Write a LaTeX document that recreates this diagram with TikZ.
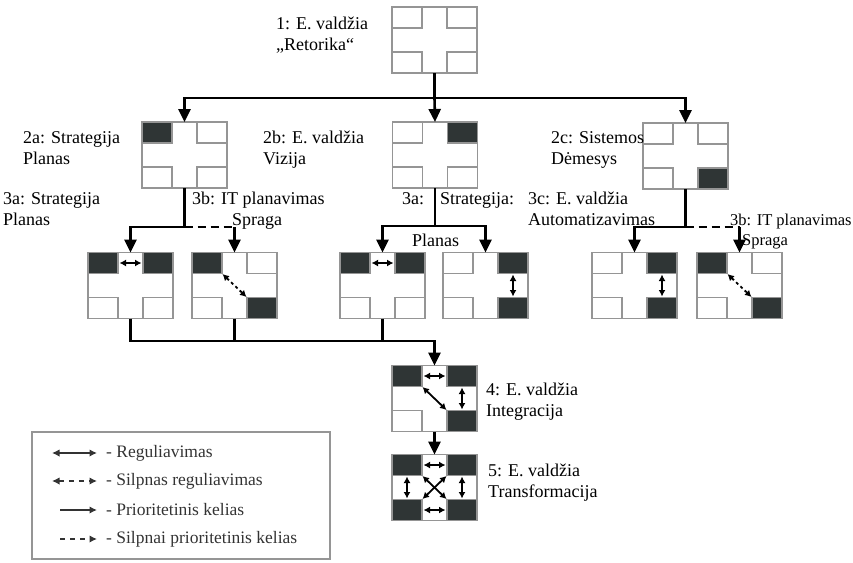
\documentclass[tikz,border=0pt]{standalone}
\usepackage{fontspec}
\setmainfont{Liberation Serif}
\usetikzlibrary{arrows.meta,calc}
\definecolor{celldark}{HTML}{2F3535}
\definecolor{cellline}{HTML}{959595}
\definecolor{legtext}{HTML}{333333}
\tikzset{
  egov/.style={draw=cellline, line width=1.5pt, minimum width=85pt, minimum height=66pt,
    inner sep=0pt, outer sep=0pt, fill=white},
  lite/.style={draw=cellline, line width=1.3pt, fill=white},
  dark/.style={draw=cellline, line width=1.3pt, fill=celldark},
  conn/.style={line width=2.6pt, draw=black},
  connarrow/.style={conn, -{Triangle[width=12pt,length=13pt]}},
  weak/.style={dash pattern=on 8pt off 5pt},
  rel/.style={line width=1.8pt, {Latex[length=6.5pt,width=7pt]}-{Latex[length=6.5pt,width=7pt]}},
  weakrel/.style={rel, dash pattern=on 3pt off 3pt},
  lbl/.style={anchor=north west, inner sep=0pt, align=left, font=\fontsize{18}{21}\selectfont},
  legline/.style={line width=1.8pt, draw=legtext},
  legtip/.tip={Latex[length=7.5pt,width=7.5pt]},
  legtxt/.style={anchor=west, inner sep=0pt, text=legtext, font=\fontsize{17.5}{20}\selectfont},
}
% four corner cells of a governance box: node, TL, TR, BL, BR
\newcommand\egovcells[5]{%
  \draw[#2] (#1.north west) rectangle ++(30,21);
  \draw[#3] (#1.north east) rectangle ++(-30,21);
  \draw[#4] (#1.south west) rectangle ++(30,-21);
  \draw[#5] (#1.south east) rectangle ++(-30,-21);
}
\begin{document}
\begin{tikzpicture}[x=1pt,y=-1pt]
\useasboundingbox (0,0) rectangle (853,562);

% ---- boxes ----
\node[egov] (b1)   at (434.5,40)    {};
\node[egov] (b2a)  at (184.5,155)   {};
\node[egov] (b2b)  at (435,155)     {};
\node[egov] (b2c)  at (685.5,156)   {};
\node[egov] (b3a1) at (130.5,285.5) {};
\node[egov] (b3b1) at (234.5,285.5) {};
\node[egov] (b3a2) at (382.5,285.5) {};
\node[egov] (b3d)  at (485.5,285.5) {};
\node[egov] (b3c)  at (634.5,285.5) {};
\node[egov] (b3b2) at (739.5,285.5) {};
\node[egov] (b4)   at (434.5,398.5) {};
\node[egov] (b5)   at (434.5,487.5) {};

\egovcells{b1}{lite}{lite}{lite}{lite}
\egovcells{b2a}{dark}{lite}{lite}{lite}
\egovcells{b2b}{lite}{dark}{lite}{lite}
\egovcells{b2c}{lite}{lite}{lite}{dark}
\egovcells{b3a1}{dark}{dark}{lite}{lite}
\egovcells{b3b1}{dark}{lite}{lite}{dark}
\egovcells{b3a2}{dark}{dark}{lite}{lite}
\egovcells{b3d}{lite}{dark}{lite}{dark}
\egovcells{b3c}{lite}{dark}{lite}{dark}
\egovcells{b3b2}{dark}{lite}{lite}{dark}
\egovcells{b4}{dark}{dark}{lite}{dark}
\egovcells{b5}{dark}{dark}{dark}{dark}

% ---- relations inside the boxes ----
\begin{scope}[shift={(b3a1.center)}]
  \draw[rel] (-11,-22.5) -- (11,-22.5);
\end{scope}
\begin{scope}[shift={(b3b1.center)}]
  \draw[weakrel] (-12,-11.5) -- (12,11.5);
\end{scope}
\begin{scope}[shift={(b3a2.center)}]
  \draw[rel] (-11,-22.5) -- (11,-22.5);
\end{scope}
\begin{scope}[shift={(b3d.center)}]
  \draw[rel] (27.5,-11) -- (27.5,11);
\end{scope}
\begin{scope}[shift={(b3c.center)}]
  \draw[rel] (27.5,-11) -- (27.5,11);
\end{scope}
\begin{scope}[shift={(b3b2.center)}]
  \draw[weakrel] (-12,-11.5) -- (12,11.5);
\end{scope}
\begin{scope}[shift={(b4.center)}]
  \draw[rel] (-11,-22.5) -- (11,-22.5);
  \draw[rel] (27.5,-11) -- (27.5,11);
  \draw[rel] (-12,-11.5) -- (12,11.5);
\end{scope}
\begin{scope}[shift={(b5.center)}]
  \draw[rel] (-11,-22.5) -- (11,-22.5);
  \draw[rel] (-11,22.5) -- (11,22.5);
  \draw[rel] (-27.5,-11) -- (-27.5,11);
  \draw[rel] (27.5,-11) -- (27.5,11);
  \draw[rel] (-12,-11.5) -- (12,11.5);
  \draw[rel] (12,-11.5) -- (-12,11.5);
\end{scope}

% ---- connectors ----
\coordinate (t1)  at (434.5,98);
\coordinate (t2a) at (184.5,227);
\coordinate (t2b) at (435,226);
\coordinate (t2c) at (685.5,227);
\coordinate (t3)  at (434.5,341);

\draw[conn] (b1.south) -- (t1);
\draw[connarrow] (t1) -| (b2a.north);
\draw[connarrow] (t1) -- (b2b.north);
\draw[connarrow] (t1) -| (b2c.north);

\draw[conn] (b2a.south) -- (t2a);
\draw[connarrow] (t2a) -| (b3a1.north);
\draw[conn,weak] (t2a) -- (t2a -| b3b1.north);
\draw[connarrow] (t2a -| b3b1.north) -- (b3b1.north);

\draw[conn] (b2b.south) -- (t2b);
\draw[connarrow] (t2b) -| (b3a2.north);
\draw[connarrow] (t2b) -| (b3d.north);

\draw[conn] (b2c.south) -- (t2c);
\draw[connarrow] (t2c) -| (b3c.north);
\draw[conn,weak] (t2c) -- (t2c -| b3b2.north);
\draw[connarrow] (t2c -| b3b2.north) -- (b3b2.north);

\draw[connarrow] (b3a1.south) |- (t3) -- (b4.north);
\draw[conn] (b3b1.south) -- (b3b1.south |- t3);
\draw[conn] (b3a2.south) -- (b3a2.south |- t3);
\draw[connarrow] (b4.south) -- (b5.north);

% ---- labels ----
\node[lbl] (l1)   at (276,17)  {1: E. valdžia\\„Retorika“};
\node[lbl] (l2a)  at (23,131)  {2a: Strategija\\Planas};
\node[lbl] (l2b)  at (263,131) {2b: E. valdžia\\Vizija};
\node[lbl] (l2c)  at (551,131) {2c: Sistemos\\Dėmesys};
\node[lbl] (l3a)  at (3,192)   {3a: Strategija\\Planas};
\node[lbl] (l3b)  at (192,192) {3b: IT planavimas\\\hspace*{40pt}Spraga};
\node[lbl] (l3m)  at (402,192) {3a:\hspace{16pt}Strategija:};
\node[lbl,anchor=center] (l3mp) at (435.5,240) {Planas};
\node[lbl] (l3c)  at (528,192) {3c: E. valdžia\\Automatizavimas};
\node[lbl,font=\fontsize{16.5}{20}\selectfont] (l3b2) at (730,214) {3b: IT planavimas\\\hspace*{12pt}Spraga};
\node[lbl] (l4)   at (486,383) {4: E. valdžia\\Integracija};
\node[lbl] (l5)   at (488,464) {5: E. valdžia\\Transformacija};

% ---- legend ----
\node[draw=cellline, line width=1.4pt, minimum width=298pt, minimum height=127pt,
      inner sep=0pt] (legend) at (181,495.5) {};
\coordinate (la1) at (52,453);  \coordinate (lb1) at (97,453);
\coordinate (la2) at (52,481);  \coordinate (lb2) at (97,481);
\coordinate (la3) at (60,510);  \coordinate (lb3) at (97,510);
\coordinate (la4) at (60,539);  \coordinate (lb4) at (97,539);
\draw[legline, legtip-legtip] (la1) -- (lb1);
\draw[legline, legtip-legtip, dash pattern=on 5pt off 5pt] (la2) -- (lb2);
\draw[legline, -legtip] (la3) -- (lb3);
\draw[legline, -legtip, dash pattern=on 5pt off 5pt] (la4) -- (lb4);
\node[legtxt] (t1l) at (106,453) {- Reguliavimas};
\node[legtxt] (t2l) at (106,481) {- Silpnas reguliavimas};
\node[legtxt] (t3l) at (106,510) {- Prioritetinis kelias};
\node[legtxt] (t4l) at (106,539) {- Silpnai prioritetinis kelias};
\end{tikzpicture}
\end{document}
